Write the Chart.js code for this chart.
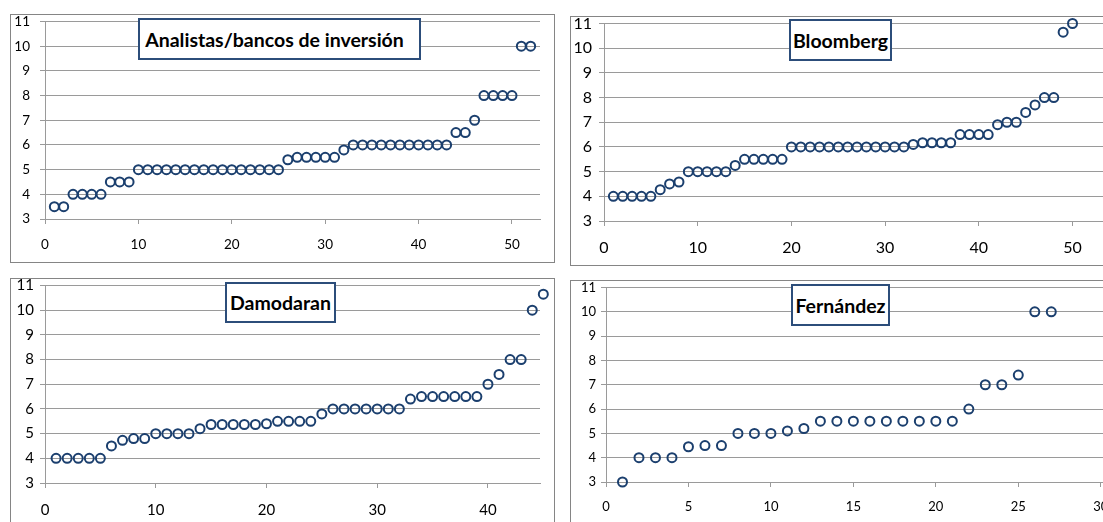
<!DOCTYPE html>
<html>
<head>
<meta charset="utf-8">
<script src="https://cdn.jsdelivr.net/npm/chart.js@4.4.1/dist/chart.umd.min.js"></script>
<style>
html, body { margin:0; padding:0; background:#fff; overflow:hidden; width:1103px; height:522px; }
.box { position:absolute; border:1px solid #858585; box-sizing:border-box; overflow:hidden; }
.box canvas { position:absolute; left:0; top:0; }
.tit { position:absolute; border:2px solid #2c4d7a; background:#fff; font:bold 19.5px Lato, sans-serif; color:#000;
       box-sizing:border-box; display:flex; align-items:center; justify-content:center; white-space:nowrap; }
</style>
</head>
<body>
<script>
// values (sorted estimates, %)
var titles = ['Analistas/bancos de inversión', 'Bloomberg', 'Damodaran', 'Fernández'];

var analistas = [3.5, 3.5, 4, 4, 4, 4, 4.5, 4.5, 4.5,
  5, 5, 5, 5, 5, 5, 5, 5, 5, 5, 5, 5, 5, 5, 5, 5,
  5.4, 5.5, 5.5, 5.5, 5.5, 5.5, 5.8,
  6, 6, 6, 6, 6, 6, 6, 6, 6, 6, 6,
  6.5, 6.5, 7, 8, 8, 8, 8, 10, 10];

var bloomberg = [4, 4, 4, 4, 4, 4.27, 4.5, 4.58, 5, 5, 5, 5, 5, 5.25,
  5.5, 5.5, 5.5, 5.5, 5.5,
  6, 6, 6, 6, 6, 6, 6, 6, 6, 6, 6, 6, 6,
  6.1, 6.17, 6.17, 6.17, 6.17, 6.5, 6.5, 6.5, 6.5,
  6.9, 7, 7, 7.4, 7.7, 8, 8, 10.65, 11];

var damodaran = [4, 4, 4, 4, 4, 4.5, 4.73, 4.8, 4.8, 5, 5, 5, 5, 5.2,
  5.37, 5.37, 5.37, 5.37, 5.37, 5.4, 5.5, 5.5, 5.5, 5.5, 5.8,
  6, 6, 6, 6, 6, 6, 6, 6.4, 6.5, 6.5, 6.5, 6.5, 6.5, 6.5,
  7, 7.4, 8, 8, 10, 10.65];

var fernandez = [3, 4, 4, 4, 4.45, 4.5, 4.5, 5, 5, 5, 5.1, 5.2,
  5.5, 5.5, 5.5, 5.5, 5.5, 5.5, 5.5, 5.5, 5.5,
  6, 7, 7, 7.4, 10, 10];

var yTicks = [3, 4, 5, 6, 7, 8, 9, 10, 11];

// page geometry: box [l,t,r,b], plot area [l,t,r,b]
var panels = [
  {data: analistas, box: [10, 14, 555, 263], area: [45, 19, 540, 219], xMax: 53, xStep: 10,
   yFont: 13.5, xFont: 13.5, yPad: 10, xPad: 13, title: [138, 18, 421, 60], tPadR: 10},
  {data: bloomberg, box: [570, 16, 1140, 266], area: [604, 21, 1110, 221], xMax: 54, xStep: 10,
   yFont: 16, xFont: 16, yPad: 7, xPad: 12, title: [789, 19, 892, 61], tPadR: 0},
  {data: damodaran, box: [10, 278, 555, 540], area: [45, 284, 540, 483], xMax: 44.7, xStep: 10,
   yFont: 15, xFont: 15, yPad: 6, xPad: 13, title: [225, 282, 336, 323], tPadR: 0},
  {data: fernandez, box: [570, 280, 1140, 540], area: [606, 285, 1109, 482], xMax: 30.5, xStep: 5,
   yFont: 13, xFont: 13, yPad: 5, xPad: 12, title: [791, 284, 890, 326], tPadR: 0}
];

var gridCol = '#9a9a9a';
var markCol = '#1b3f6e';

panels.forEach(function(p, i) {
  var box = document.createElement('div');
  box.className = 'box';
  box.style.left = p.box[0] + 'px';
  box.style.top = p.box[1] + 'px';
  box.style.width = (p.box[2] - p.box[0]) + 'px';
  box.style.height = (p.box[3] - p.box[1]) + 'px';
  document.body.appendChild(box);

  var cl = p.box[0] + 1, ct = p.box[1] + 1;
  var cw = p.box[2] - p.box[0] - 2, ch = p.box[3] - p.box[1] - 2;
  var cv = document.createElement('canvas');
  cv.width = cw; cv.height = ch;
  cv.style.width = cw + 'px'; cv.style.height = ch + 'px';
  box.appendChild(cv);

  var yW = p.area[0] - cl;
  var padTop = p.area[1] - ct;
  var padRight = cl + cw - p.area[2];
  var xH = ct + ch - p.area[3];

  var pts = p.data.map(function(v, k) { return {x: k + 1, y: v}; });

  new Chart(cv.getContext('2d'), {
    type: 'scatter',
    data: {
      datasets: [{
        data: pts,
        pointStyle: 'circle',
        pointRadius: 4.5,
        pointBorderWidth: 2,
        pointBorderColor: markCol,
        pointBackgroundColor: 'rgba(0,0,0,0)',
        clip: false
      }]
    },
    options: {
      responsive: false,
      animation: false,
      devicePixelRatio: 1,
      layout: {padding: {top: padTop, right: padRight, left: 0, bottom: 0}},
      plugins: {legend: {display: false}, tooltip: {enabled: false}},
      scales: {
        x: {
          type: 'linear', min: 0, max: p.xMax,
          ticks: {stepSize: p.xStep, includeBounds: false, color: '#000', padding: p.xPad,
                  font: {family: 'Lato', size: p.xFont}, maxRotation: 0},
          grid: {drawOnChartArea: false, drawTicks: true, tickLength: 5, color: gridCol},
          border: {display: true, color: gridCol},
          afterFit: function(s) { s.height = xH; s.paddingLeft = 0; s.paddingRight = 0; }
        },
        y: {
          type: 'linear', min: yTicks[0], max: yTicks[yTicks.length - 1],
          afterBuildTicks: function(s) { s.ticks = yTicks.map(function(v) { return {value: v}; }); },
          ticks: {color: '#000', padding: p.yPad, font: {family: 'Lato', size: p.yFont}},
          grid: {drawTicks: true, tickLength: 5, color: gridCol},
          border: {display: true, color: gridCol},
          afterFit: function(s) { s.width = yW; s.paddingTop = 0; s.paddingBottom = 0; }
        }
      }
    }
  });

  var t = document.createElement('div');
  t.className = 'tit';
  t.textContent = titles[i];
  t.style.left = p.title[0] + 'px';
  t.style.top = p.title[1] + 'px';
  t.style.width = (p.title[2] - p.title[0]) + 'px';
  t.style.height = (p.title[3] - p.title[1]) + 'px';
  t.style.paddingRight = p.tPadR + 'px';
  document.body.appendChild(t);
});
</script>
</body>
</html>
